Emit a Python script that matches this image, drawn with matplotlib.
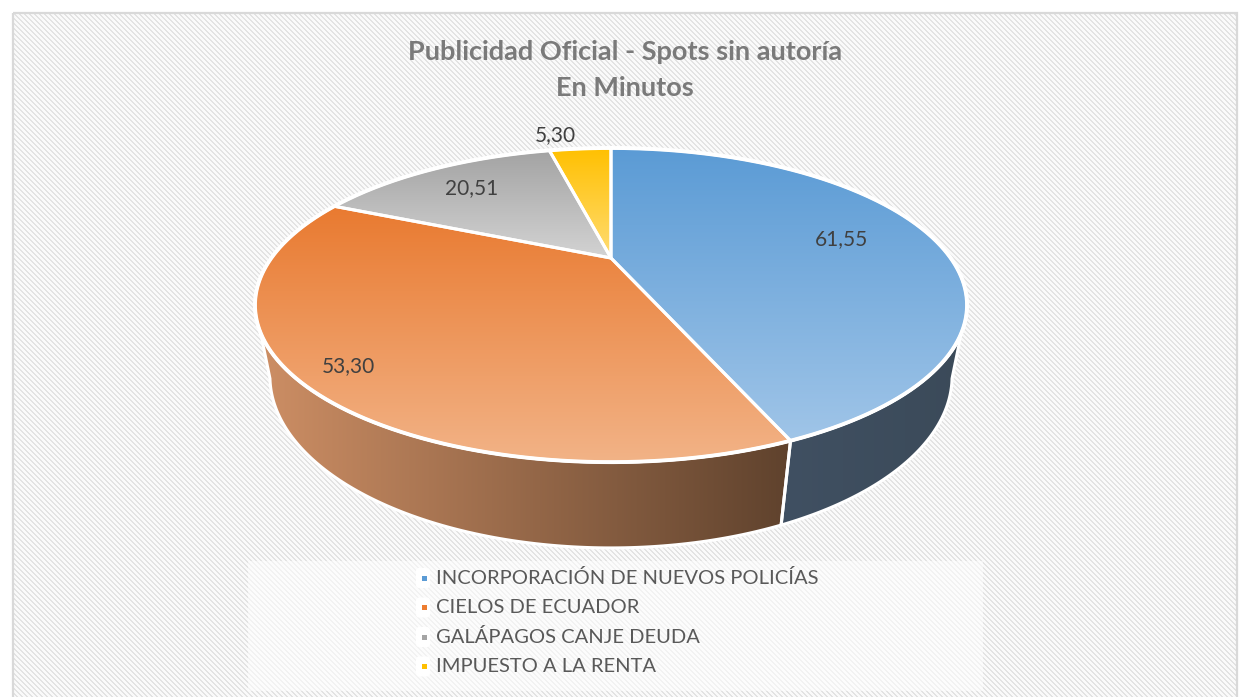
import numpy as np
import matplotlib
matplotlib.use("Agg")
import matplotlib.pyplot as plt
from matplotlib.patches import Polygon, Rectangle, FancyBboxPatch
from matplotlib.colors import to_rgb

# ---------------- data ----------------
categories = ["INCORPORACIÓN DE NUEVOS POLICÍAS", "CIELOS DE ECUADOR",
              "GALÁPAGOS CANJE DEUDA", "IMPUESTO A LA RENTA"]
minutes = [61.55, 53.30, 20.51, 5.30]
title_lines = ["Publicidad Oficial - Spots sin autoría", "En Minutos"]

# ---------------- style ----------------
W, H = 1240, 697
top_grad = [("#5B9BD5", "#A0C5E8"), ("#E97A30", "#F2B387"),
            ("#A3A3A3", "#D3D3D3"), ("#FFC000", "#FFDC73")]
side_grad = [("#405062", "#3B4A59"), ("#CE8F65", "#5F422D"),
             ("#8A8A8A", "#6A6A6A"), ("#C09000", "#A07800")]
legend_colors = ["#5B9BD5", "#ED7D31", "#A5A5A5", "#FFC000"]
label_r = [0.72, 0.88, 0.75, 1.16]
label_ha = ["center", "center", "center", "right"]

# perspective projection of the pie disk
CX, CY, A, B, K, M, D = 611.0, 258.0, 339.7, 143.0, 0.2995, 0.04, 71.7


def proj(theta, r=1.0, z=0.0):
    t = np.radians(theta)
    u = r * np.sin(t)
    v = r * np.cos(t)
    w = 1 + K * v + M * z
    return CX + A * u / w, CY - (B * v - D * z) / w


fig = plt.figure(figsize=(W / 100, H / 100), dpi=100)

# background: diagonal stripes inside a light frame
yy, xx = np.mgrid[0:H, 0:W]
stripe = ((xx - yy) % 5) < 2
bg = np.ones((H, W, 3))
c_gray = np.array(to_rgb("#E3E3E3"))
c_light = np.array(to_rgb("#FAFAFA"))
bg[:] = c_light
bg[stripe] = c_gray
# lighter legend area
leg = (xx >= 248) & (xx <= 982) & (yy >= 561) & (yy <= 690)
bg[leg] = bg[leg] * 0.45 + 0.55
outside = (xx < 14) | (yy < 14) | (xx > 1236)
bg[outside] = 1.0
fig.figimage(bg, xo=0, yo=0, origin="upper", zorder=-5)

ax = fig.add_axes([0, 0, 1, 1])
ax.set_zorder(2)
ax.set_xlim(0, W)
ax.set_ylim(H, 0)
ax.axis("off")
ax.patch.set_alpha(0)

# frame border
ax.add_patch(Rectangle((13, 13), 1224, 700, fill=False, edgecolor="#D9D9D9",
                       lw=1.6, zorder=1))


def grad_fill(xy, c1, c2, vertical=True, z=2):
    xy = np.asarray(xy)
    poly = Polygon(xy, closed=True, facecolor="none", edgecolor="none")
    ax.add_patch(poly)
    x0, x1 = xy[:, 0].min(), xy[:, 0].max()
    y0, y1 = xy[:, 1].min(), xy[:, 1].max()
    t = np.linspace(0, 1, 256)[:, None]
    cols = (1 - t) * np.array(to_rgb(c1)) + t * np.array(to_rgb(c2))
    img = cols[:, None, :] if vertical else cols[None, :, :]
    im = ax.imshow(img, extent=(x0, x1, y1, y0), origin="upper",
                   aspect="auto", zorder=z, interpolation="bilinear")
    im.set_clip_path(poly)


total = sum(minutes)
bounds = np.concatenate([[0], np.cumsum(minutes) / total * 360])
th_r = np.degrees(np.arccos(-K))
th_l = 360 - th_r

# sides
for i in range(len(minutes)):
    a, b = max(bounds[i], th_r), min(bounds[i + 1], th_l)
    if a >= b:
        continue
    ts = np.linspace(a, b, 120)
    tx, ty = proj(ts)
    bx, by = proj(ts[::-1], z=1.0)
    xy = np.column_stack([np.concatenate([tx, bx]), np.concatenate([ty, by])])
    grad_fill(xy, side_grad[i][0], side_grad[i][1], vertical=False, z=2)
    ax.add_patch(Polygon(xy, closed=True, fill=False, edgecolor="white",
                         lw=2.2, joinstyle="round", zorder=2.5))

# tops
cx0, cy0 = proj(0, r=0)
for i in range(len(minutes)):
    ts = np.linspace(bounds[i], bounds[i + 1], 200)
    tx, ty = proj(ts)
    xy = np.column_stack([np.concatenate([[cx0], tx]), np.concatenate([[cy0], ty])])
    grad_fill(xy, top_grad[i][0], top_grad[i][1], vertical=True, z=3)
    ax.add_patch(Polygon(xy, closed=True, fill=False, edgecolor="white",
                         lw=2.2, joinstyle="round", zorder=3.5))
# outer rim outline
ts = np.linspace(0, 360, 720)
rx, ry = proj(ts)
ax.plot(rx, ry, color="white", lw=2.8, zorder=3.6)

# data labels
for i, v in enumerate(minutes):
    mid = (bounds[i] + bounds[i + 1]) / 2
    lx, ly = proj(mid, r=label_r[i])
    ax.text(lx, ly, f"{v:.2f}".replace(".", ","), ha=label_ha[i], va="center",
            fontsize=15, color="#404040", family=["Lato", "DejaVu Sans"],
            zorder=6)

# title
ax.text(625, 52, title_lines[0], ha="center", va="center", fontsize=19.5,
        fontweight="bold", color="#7A7A7A", family=["Lato", "DejaVu Sans"])
ax.text(625, 88, title_lines[1], ha="center", va="center", fontsize=19.5,
        fontweight="bold", color="#7A7A7A", family=["Lato", "DejaVu Sans"])

# legend
for i, name in enumerate(categories):
    y = 578 + i * 29.5
    ax.add_patch(FancyBboxPatch((416, y - 10), 14, 20,
                                boxstyle="round,pad=0,rounding_size=3",
                                facecolor="white", edgecolor="none", zorder=4))
    ax.add_patch(Rectangle((422, y - 2.5), 5, 5, facecolor=legend_colors[i],
                           edgecolor="none", zorder=5))
    ax.text(436, y, name, ha="left", va="center", fontsize=14.5,
            color="#595959", family=["Lato", "DejaVu Sans"], zorder=5)

fig.savefig("out.png", dpi=100)
